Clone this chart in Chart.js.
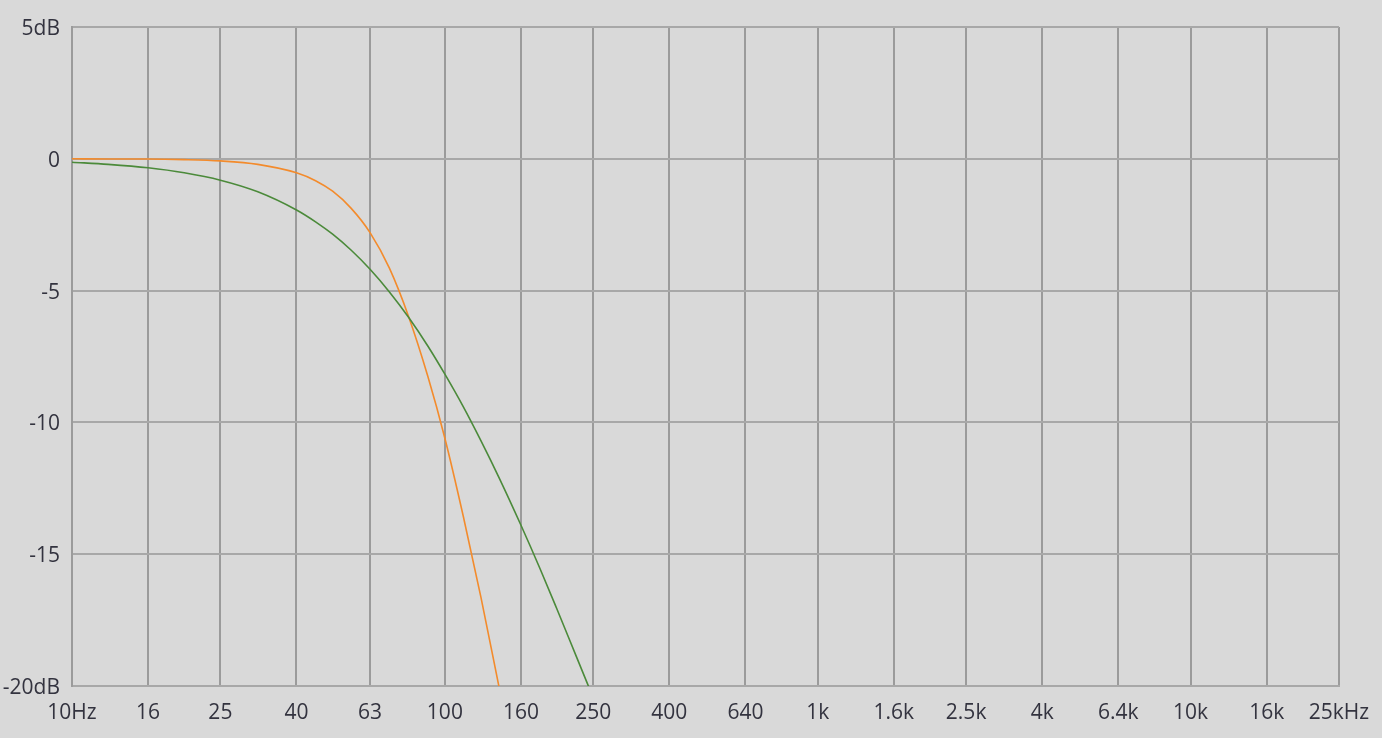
<!DOCTYPE html>
<html>
<head>
<meta charset="utf-8">
<script src="https://cdn.jsdelivr.net/npm/chart.js@4.4.1/dist/chart.umd.min.js"></script>
<style>
  html, body { margin: 0; padding: 0; background: #d9d9d9; overflow: hidden; }
  #wrap { width: 1382px; height: 738px; position: relative; }
</style>
</head>
<body>
<div id="wrap"><canvas id="c" width="1382" height="738"></canvas></div>
<script>
const freqTicks = [10, 16, 25, 40, 63, 100, 160, 250, 400, 640, 1000, 1600, 2500, 4000, 6400, 10000, 16000, 25000];
const freqLabels = ['10Hz', '16', '25', '40', '63', '100', '160', '250', '400', '640', '1k', '1.6k', '2.5k', '4k', '6.4k', '10k', '16k', '25kHz'];
const dbTicks = [5, 0, -5, -10, -15, -20];
const dbLabels = ['5dB', '0', '-5', '-10', '-15', '-20dB'];

const orangeFreq = [10, 12.5, 16, 20, 25, 31.5, 40, 45, 50, 56, 63, 71, 80, 90, 100, 112, 125, 140];
const orangeDb = [0.00, -0.01, -0.01, -0.03, -0.08, -0.21, -0.53, -0.83, -1.23, -1.87, -2.80, -4.15, -6.00, -8.25, -10.60, -13.55, -16.65, -20.10];

const greenFreq = [10, 12.5, 16, 20, 25, 31.5, 40, 45, 50, 56, 63, 71, 80, 90, 100, 112, 125, 140, 160, 180, 200, 224, 250];
const greenDb = [-0.13, -0.21, -0.34, -0.53, -0.81, -1.25, -1.94, -2.39, -2.86, -3.46, -4.19, -5.05, -6.02, -7.10, -8.17, -9.40, -10.70, -12.12, -13.90, -15.55, -17.10, -18.80, -20.45];

const vGridColor = '#9b9b9b';
const hGridColor = '#a8a8a8';
const textColor = '#33333f';
const fontSpec = { family: "'Segoe UI', 'Open Sans', sans-serif", size: 21 };
const xFontSpec = { family: "'Segoe UI', 'Open Sans', sans-serif", size: 21, lineHeight: 1.45 };

const toPoints = (xs, ys) => xs.map((x, i) => ({ x: x, y: ys[i] }));

new Chart(document.getElementById('c'), {
  type: 'line',
  data: {
    datasets: [
      {
        data: toPoints(greenFreq, greenDb),
        borderColor: '#4b8a3a',
        borderWidth: 1.6,
        pointRadius: 0,
        cubicInterpolationMode: 'monotone',
        fill: false
      },
      {
        data: toPoints(orangeFreq, orangeDb),
        borderColor: '#f38b2c',
        borderWidth: 1.6,
        pointRadius: 0,
        cubicInterpolationMode: 'monotone',
        fill: false
      }
    ]
  },
  options: {
    responsive: false,
    animation: false,
    devicePixelRatio: 1,
    layout: { padding: { top: 27, right: 43, bottom: 0, left: 0 } },
    plugins: { legend: { display: false }, tooltip: { enabled: false } },
    scales: {
      x: {
        type: 'logarithmic',
        min: 10,
        max: 25000,
        afterBuildTicks: (scale) => { scale.ticks = freqTicks.map(v => ({ value: v })); },
        afterFit: (scale) => { scale.height = 52; },
        grid: { color: vGridColor, lineWidth: 2, drawTicks: false },
        border: { color: hGridColor, width: 2 },
        ticks: {
          autoSkip: false,
          maxRotation: 0,
          padding: 12,
          color: textColor,
          font: xFontSpec,
          callback: function (value) {
            const i = freqTicks.indexOf(value);
            return i >= 0 ? freqLabels[i] : '';
          }
        }
      },
      y: {
        type: 'linear',
        min: -20,
        max: 5,
        afterBuildTicks: (scale) => { scale.ticks = dbTicks.map(v => ({ value: v })); },
        afterFit: (scale) => { scale.width = 72; },
        grid: { color: hGridColor, lineWidth: 2, drawTicks: false },
        border: { color: vGridColor, width: 2 },
        ticks: {
          padding: 12,
          labelOffset: 2,
          color: textColor,
          font: fontSpec,
          callback: function (value) {
            const i = dbTicks.indexOf(value);
            return i >= 0 ? dbLabels[i] : '';
          }
        }
      }
    }
  }
});
</script>
</body>
</html>
